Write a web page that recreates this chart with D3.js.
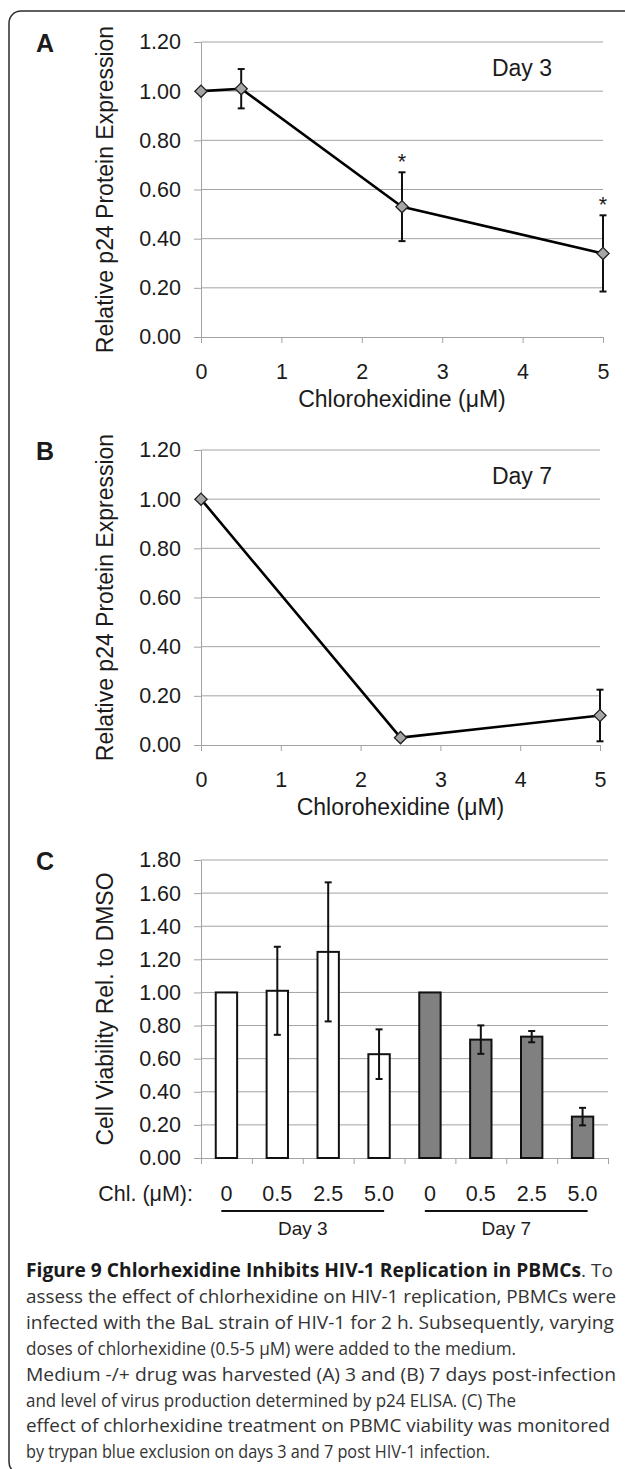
<!DOCTYPE html>
<html>
<head>
<meta charset="utf-8">
<script src="https://cdn.jsdelivr.net/npm/d3@7"></script>
<style>
  body { margin: 0; background: #fff; }
  svg { display: block; }
</style>
</head>
<body>
<svg id="fig" width="625" height="1469"></svg>
<script>
// ---- data ----
const doseA = [0, 0.5, 2.5, 5];
const p24A = [1.00, 1.01, 0.53, 0.34];
const errA = [0, 0.08, 0.14, 0.155];
const starA = [false, false, true, true];

const doseB = [0, 2.5, 5];
const p24B = [1.00, 0.03, 0.12];
const errB = [0, 0, 0.105];

const doseTicks = [0, 1, 2, 3, 4, 5];
const p24Ticks = [0, 0.2, 0.4, 0.6, 0.8, 1.0, 1.2];
const viabTicks = [0, 0.2, 0.4, 0.6, 0.8, 1.0, 1.2, 1.4, 1.6, 1.8];

const days = ["Day 3", "Day 7"];
const doseC = ["0", "0.5", "2.5", "5.0"];
const viabDay3 = [1.00, 1.01, 1.245, 0.627];
const errDay3 = [0, 0.266, 0.42, 0.15];
const viabDay7 = [1.00, 0.715, 0.733, 0.25];
const errDay7 = [0, 0.086, 0.034, 0.053];

const captionBold = "Figure 9 Chlorhexidine Inhibits HIV-1 Replication in PBMCs";
const captionLines = [
  ". To",
  "assess the effect of chlorhexidine on HIV-1 replication, PBMCs were",
  "infected with the BaL strain of HIV-1 for 2 h. Subsequently, varying",
  "doses of chlorhexidine (0.5-5 \u03bcM) were added to the medium.",
  "Medium -/+ drug was harvested (A) 3 and (B) 7 days post-infection",
  "and level of virus production determined by p24 ELISA. (C) The",
  "effect of chlorhexidine treatment on PBMC viability was monitored",
  "by trypan blue exclusion on days 3 and 7 post HIV-1 infection."
];
// right end of each justified line (null = natural width)
const captionEnds = [null, 616, 614, 516, 616, 516, 610, 490];

// ---- style ----
const svg = d3.select("#fig");
const font = "'Liberation Sans', Arial, Helvetica, sans-serif";
const gridColor = "#a3a3a3";
const ink = "#1b1b1b";
const fs = 21.5;
const titleFs = 23;

svg.append("rect")
  .attr("width", 625).attr("height", 1469).attr("fill", "#fff");

// outer frame
svg.append("rect")
  .attr("x", 9).attr("y", 11)
  .attr("width", 640).attr("height", 1463)
  .attr("rx", 12)
  .attr("fill", "none")
  .attr("stroke", "#2b2b2b")
  .attr("stroke-width", 1.5);

function yAxis(y, ticks, x0, x1) {
  ticks.filter(t => t > 0).forEach(t => {
    svg.append("line")
      .attr("x1", x0).attr("x2", x1)
      .attr("y1", y(t)).attr("y2", y(t))
      .attr("stroke", gridColor).attr("stroke-width", 1);
  });
  const g = svg.append("g")
    .attr("transform", `translate(${x0},0)`)
    .call(d3.axisLeft(y).tickValues(ticks).tickFormat(d3.format(".2f"))
      .tickSize(7).tickSizeOuter(0).tickPadding(13));
  g.attr("font-family", null).attr("font-size", null);
  g.select(".domain").attr("stroke", gridColor);
  g.selectAll(".tick line").attr("stroke", gridColor);
  g.selectAll("text")
    .attr("font-family", font).attr("font-size", fs).attr("fill", ink);
}

function label(x, y, txt, size, opts = {}) {
  return svg.append("text")
    .attr("x", x).attr("y", y)
    .attr("text-anchor", opts.anchor || "middle")
    .attr("font-family", font)
    .attr("font-size", size)
    .attr("font-weight", opts.weight || "normal")
    .attr("fill", ink)
    .text(txt);
}

function yTitle(cx, cy, txt) {
  svg.append("text")
    .attr("transform", `translate(${cx},${cy}) rotate(-90)`)
    .attr("text-anchor", "middle")
    .attr("font-family", font)
    .attr("font-size", titleFs)
    .attr("fill", ink)
    .text(txt);
}

function errorBar(x, yTop, yBot, cap) {
  svg.append("line")
    .attr("x1", x).attr("x2", x).attr("y1", yTop).attr("y2", yBot)
    .attr("stroke", "#111").attr("stroke-width", 2);
  [yTop, yBot].forEach(yy => {
    svg.append("line")
      .attr("x1", x - cap / 2).attr("x2", x + cap / 2)
      .attr("y1", yy).attr("y2", yy)
      .attr("stroke", "#111").attr("stroke-width", 2);
  });
}

function linePanel(p) {
  const x = d3.scaleLinear().domain([0, 5]).range([p.left, p.right]);
  const y = d3.scaleLinear().domain([0, 1.2]).range([p.bottom, p.top]);

  yAxis(y, p24Ticks, p.left, p.right);

  const gx = svg.append("g")
    .attr("transform", `translate(0,${p.bottom})`)
    .call(d3.axisBottom(x).tickValues(doseTicks).tickFormat(d3.format("d"))
      .tickSize(6).tickSizeOuter(0).tickPadding(21));
  gx.attr("font-family", null).attr("font-size", null);
  gx.select(".domain").attr("stroke", gridColor);
  gx.selectAll(".tick line").attr("stroke", gridColor);
  gx.selectAll("text").attr("font-family", font).attr("font-size", fs).attr("fill", ink);

  const pts = p.dose.map((d, i) => ({ d, v: p.val[i], e: p.err[i], s: p.star ? p.star[i] : false }));

  svg.append("path")
    .datum(pts)
    .attr("d", d3.line().x(d => x(d.d)).y(d => y(d.v)))
    .attr("fill", "none")
    .attr("stroke", "#000")
    .attr("stroke-width", 2.6)
    .attr("stroke-linejoin", "round");

  pts.filter(d => d.e > 0).forEach(d => {
    errorBar(x(d.d), y(d.v + d.e), y(d.v - d.e), 7);
  });

  pts.forEach(d => {
    svg.append("path")
      .attr("d", d3.symbol(d3.symbolSquare, 74)())
      .attr("transform", `translate(${x(d.d)},${y(d.v)}) rotate(45)`)
      .attr("fill", "#a6a6a6")
      .attr("stroke", "#222")
      .attr("stroke-width", 1.3);
    if (d.s) label(x(d.d), y(d.v + d.e) - 3, "*", fs);
  });

  label(p.left - 156, p.top + 10, p.letter, 25, { weight: "bold" });
  label(522, p.top + 34, p.day, titleFs);
  label((p.left + p.right) / 2, p.bottom + 70, "Chlorohexidine (\u03bcM)", titleFs);
  yTitle(113, (p.top + p.bottom) / 2, "Relative p24 Protein Expression");
}

linePanel({ letter: "A", day: "Day 3", left: 201, right: 603, top: 42, bottom: 337,
  dose: doseA, val: p24A, err: errA, star: starA });
linePanel({ letter: "B", day: "Day 7", left: 201, right: 600, top: 450, bottom: 745,
  dose: doseB, val: p24B, err: errB });

// ---- panel C ----
const cLeft = 201, cRight = 608, cTop = 860, cBottom = 1158;
const rows = days.flatMap((day, gi) => doseC.map((dose, di) => ({
  key: day + " " + dose, day, dose, gi,
  v: gi === 0 ? viabDay3[di] : viabDay7[di],
  e: gi === 0 ? errDay3[di] : errDay7[di]
})));

const yC = d3.scaleLinear().domain([0, 1.8]).range([cBottom, cTop]);
const slot = d3.scaleBand().domain(rows.map(r => r.key)).range([cLeft, cRight]);
const bar = d3.scaleBand().domain(rows.map(r => r.key)).range([cLeft, cRight])
  .paddingInner(0.58).paddingOuter(0.29);

yAxis(yC, viabTicks, cLeft, cRight);

// x axis with ticks on slot boundaries
const xEdge = d3.scaleLinear().domain([0, rows.length]).range([cLeft, cRight]);
const gxc = svg.append("g")
  .attr("transform", `translate(0,${cBottom})`)
  .call(d3.axisBottom(xEdge).tickValues(d3.range(rows.length + 1)).tickFormat("")
    .tickSize(6).tickSizeOuter(0));
gxc.select(".domain").attr("stroke", gridColor);
gxc.selectAll(".tick line").attr("stroke", gridColor);

rows.forEach(r => {
  svg.append("rect")
    .attr("x", bar(r.key)).attr("y", yC(r.v))
    .attr("width", bar.bandwidth()).attr("height", yC(0) - yC(r.v))
    .attr("fill", r.gi === 0 ? "#ffffff" : "#808080")
    .attr("stroke", "#111").attr("stroke-width", 2);
});
rows.filter(r => r.e > 0).forEach(r => {
  errorBar(slot(r.key) + slot.bandwidth() / 2, yC(r.v + r.e), yC(r.v - r.e), 7);
});

rows.forEach(r => {
  label(slot(r.key) + slot.bandwidth() / 2, 1201, r.dose, fs);
});
label(193, 1201, "Chl. (\u03bcM):", fs, { anchor: "end" });

days.forEach((day, gi) => {
  const first = rows.find(r => r.gi === gi), last = rows.filter(r => r.gi === gi).pop();
  const xa = slot(first.key) + slot.bandwidth() * 0.4;
  const xb = slot(last.key) + slot.bandwidth() * 0.6;
  svg.append("line")
    .attr("x1", xa).attr("x2", xb).attr("y1", 1211).attr("y2", 1211)
    .attr("stroke", "#111").attr("stroke-width", 2);
  label((xa + xb) / 2, 1235, day, 19);
});

label(45, 870, "C", 25, { weight: "bold" });
yTitle(113, (cTop + cBottom) / 2, "Cell Viability Rel. to DMSO");

// ---- caption ----
const capFont = "'Open Sans', 'Noto Sans', sans-serif";
const capX = 26, boldEnd = 581;
captionLines.forEach((line, i) => {
  const y = 1277 + i * 25.9;
  const x0 = i === 0 ? boldEnd : capX;
  if (i === 0) {
    svg.append("text")
      .attr("x", capX).attr("y", y)
      .attr("font-family", capFont).attr("font-size", 19)
      .attr("font-weight", "bold").attr("fill", "#1a1a1a")
      .attr("textLength", boldEnd - capX)
      .attr("lengthAdjust", "spacingAndGlyphs")
      .text(captionBold);
  }
  const t = svg.append("text")
    .attr("x", x0).attr("y", y)
    .attr("font-family", capFont)
    .attr("font-size", 19)
    .attr("fill", "#333")
    .text(line);
  if (captionEnds[i] !== null) {
    t.attr("textLength", captionEnds[i] - x0)
      .attr("lengthAdjust", "spacingAndGlyphs");
  }
});
</script>
</body>
</html>
